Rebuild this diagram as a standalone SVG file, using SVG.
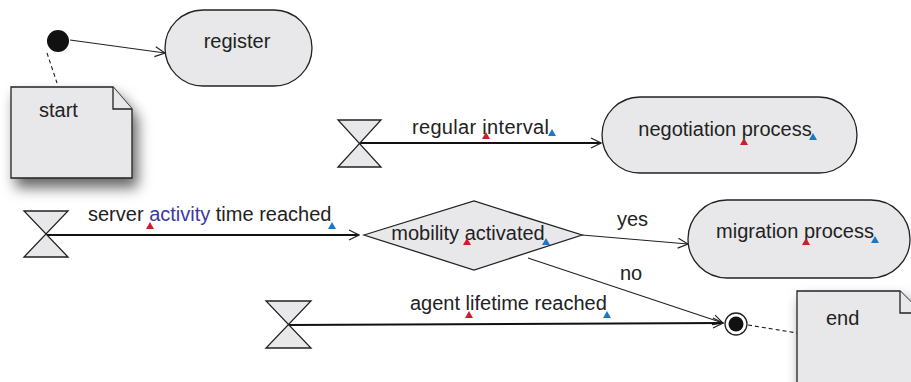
<svg xmlns="http://www.w3.org/2000/svg" width="911" height="382" viewBox="0 0 911 382">
  <defs>
    <marker id="open" viewBox="0 0 12 12" refX="11" refY="6" markerWidth="12" markerHeight="12" markerUnits="userSpaceOnUse" orient="auto">
      <polyline points="1,1 11,6 1,11" fill="none" stroke="#222" stroke-width="1.2"/>
    </marker>
    <filter id="shadow" x="-40%" y="-40%" width="190%" height="190%">
      <feDropShadow dx="5" dy="9" stdDeviation="7" flood-color="#000" flood-opacity="0.6"/>
    </filter>
  </defs>
  <style>
    .shape { fill: #e8e8ea; stroke: #222; stroke-width: 1.3; }
    .glass { fill: #e8e8ea; stroke: #222; stroke-width: 1.3; }
    .edge { fill: none; stroke: #222; stroke-width: 1.2; }
    .trig { fill: none; stroke: #111; stroke-width: 2; }
    .dash { fill: none; stroke: #222; stroke-width: 1.1; stroke-dasharray: 4 3; }
    text { font-family: "Liberation Sans", Arial, sans-serif; font-size: 20px; fill: #222; }
    .red { fill: #c8202a; }
    .blue { fill: #1a78c8; }
  </style>

  <rect width="911" height="382" fill="#fff"/>

  <!-- connectors -->
  <g id="connectors">
    <line class="edge" x1="70" y1="40" x2="165" y2="53" marker-end="url(#open)"/>
    <line class="dash" x1="47" y1="53" x2="57" y2="83"/>
    <line class="trig" x1="359" y1="143" x2="601" y2="143" marker-end="url(#open)"/>
    <line class="trig" x1="47" y1="235" x2="359" y2="235" marker-end="url(#open)"/>
    <line class="edge" x1="582" y1="235" x2="688" y2="244" marker-end="url(#open)"/>
    <line class="edge" x1="528" y1="258" x2="723" y2="323" marker-end="url(#open)"/>
    <line class="trig" x1="289" y1="325" x2="723" y2="323" marker-end="url(#open)"/>
    <line class="dash" x1="748" y1="325" x2="797" y2="333"/>
    <text x="412" y="134" textLength="137">regular interval</text>
    <polygon class="red" points="482,139 486,132 490,139"/>
    <polygon class="blue" points="548,136 552,129 556,136"/>
    <text x="88" y="221">server <tspan fill="#3a3a9c">activity</tspan> time reached</text>
    <polygon class="red" points="146,229 150,222 154,229"/>
    <polygon class="blue" points="328,229 332,222 336,229"/>
    <text x="617" y="226">yes</text>
    <text x="620" y="280">no</text>
    <text x="410" y="310">agent lifetime reached</text>
    <polygon class="red" points="465,318 469,311 473,318"/>
    <polygon class="blue" points="603,318 607,311 611,318"/>
  </g>

  <!-- initial node -->
  <g id="initial">
    <circle cx="58" cy="41" r="11" fill="#111"/>
  </g>

  <!-- start note -->
  <g id="note-start">
    <path class="shape" filter="url(#shadow)" d="M11,87 H113 L132,109 V178 H11 Z"/>
    <path class="shape" d="M113,87 V109 H132"/>
    <text x="39" y="117">start</text>
  </g>

  <g id="register">
    <rect class="shape" x="165" y="10" width="147" height="76" rx="38"/>
    <text x="237" y="48" text-anchor="middle">register</text>
  </g>

  <g id="timer-interval">
    <polygon class="glass" points="338,120 381,120 338,167 381,167"/>
  </g>

  <g id="negotiation">
    <rect class="shape" x="602" y="97" width="255" height="76" rx="38"/>
    <text x="725" y="136" text-anchor="middle">negotiation process</text>
    <polygon class="red" points="740,145 744,138 748,145"/>
    <polygon class="blue" points="809,140 813,133 817,140"/>
  </g>

  <g id="timer-activity">
    <polygon class="glass" points="24,211 68,211 24,257 68,257"/>
  </g>

  <g id="decision">
    <polygon class="shape" points="364,235 474,201 582,235 474,270"/>
    <text x="468" y="240" text-anchor="middle">mobility activated</text>
    <polygon class="red" points="463,245 467,238 471,245"/>
    <polygon class="blue" points="542,245 546,238 550,245"/>
  </g>

  <g id="migration">
    <rect class="shape" x="688" y="200" width="222" height="78" rx="39"/>
    <text x="795" y="238" text-anchor="middle">migration process</text>
    <polygon class="red" points="802,245 806,238 810,245"/>
    <polygon class="blue" points="871,243 875,236 879,243"/>
  </g>

  <g id="timer-lifetime">
    <polygon class="glass" points="266,301 311,301 266,348 311,348"/>
  </g>

  <g id="final">
    <circle cx="736" cy="324" r="11" fill="#fff" stroke="#222" stroke-width="1.3"/>
    <circle cx="736" cy="324" r="7.5" fill="#111"/>
  </g>

  <g id="note-end">
    <path class="shape" filter="url(#shadow)" d="M797,291 H900 L922,313 V392 H797 Z"/>
    <path class="shape" d="M900,291 V313 H922"/>
    <text x="826" y="325">end</text>
  </g>
</svg>
